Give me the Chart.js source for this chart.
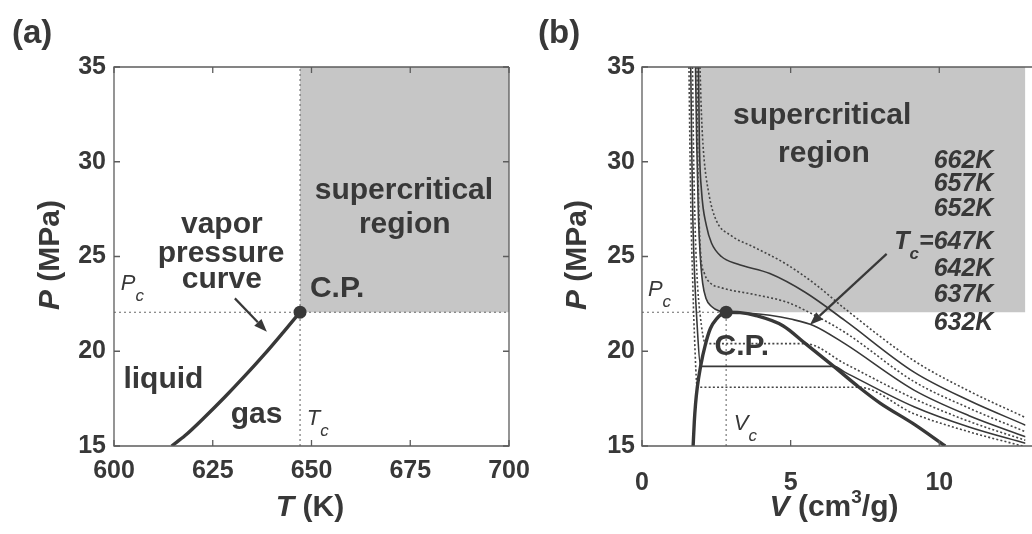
<!DOCTYPE html>
<html>
<head>
<meta charset="utf-8">
<script src="https://cdn.jsdelivr.net/npm/chart.js"></script>
<style>
  html, body { margin: 0; padding: 0; background: #fff; overflow: hidden; }
  #wrap { position: relative; width: 1032px; height: 534px; }
  #chartA { position: absolute; left: 0; top: 0; }
  #chartB { position: absolute; left: 520px; top: 0; }
</style>
</head>
<body>
<div id="wrap">
  <canvas id="chartA" width="545" height="534"></canvas>
  <canvas id="chartB" width="512" height="534"></canvas>
</div>
<script>
const FONT = '"Liberation Sans", Arial, Helvetica, sans-serif';
const INK = '#383838';
const GREY = '#c6c6c6';

// critical point of water
const Tc = 647.1;
const Pc = 22.06;
const Vc = 2.83;

// tick labels
const tTicks = [600, 625, 650, 675, 700];
const pTicks = [15, 20, 25, 30, 35];
const vTicks = [0, 5, 10];
const vMax = 12.9; // panel (b) is cut at the page edge

// (a) vapor pressure curve
const vaporT = [614.6, 618, 623, 628, 633, 638, 643, 647.1];
const vaporP = [15.0, 15.55, 16.53, 17.57, 18.67, 19.82, 21.04, 22.06];

// (b) isotherms: V (cm3/g), P (MPa)
const isoTemps = [662, 657, 652, 647, 642, 637, 632];
const v662 = [1.95, 2.0, 2.07, 2.25, 2.5, 3.0, 3.76, 4.85, 5.9, 6.82, 9.15, 11.0, 12.9];
const p662 = [35, 32.5, 30.5, 28.3, 26.9, 26.1, 25.5, 24.6, 23.45, 22.25, 19.5, 17.9, 16.5];
const v657 = [1.9, 1.93, 2.0, 2.17, 2.34, 2.67, 3.21, 4.3, 5.5, 6.82, 9.15, 11.0, 12.9];
const p657 = [35, 31, 28.5, 26.6, 25.7, 25.0, 24.6, 24.1, 23.1, 21.63, 18.9, 17.4, 16.1];
const v652 = [1.85, 1.87, 1.92, 1.98, 2.1, 2.3, 2.67, 3.76, 4.85, 5.6, 6.82, 9.15, 11.0, 12.9];
const p652 = [35, 31, 27, 25.0, 24.1, 23.6, 23.35, 23.0, 22.6, 22.07, 21.0, 18.4, 17.0, 15.75];
const v647 = [1.8, 1.84, 1.9, 1.96, 2.04, 2.15, 2.35, 2.6, 2.83, 3.5, 4.3, 5.0, 5.78, 6.82, 9.15, 11.0, 12.9];
const p647 = [35, 31, 27, 25, 23.6, 22.8, 22.35, 22.12, 22.06, 22.02, 21.9, 21.7, 21.35, 20.4, 17.95, 16.6, 15.49];
const v642 = [1.7, 1.73, 1.78, 1.85, 1.95, 2.14, 5.5, 6.82, 9.15, 11.0, 12.9];
const p642 = [35, 31, 27, 24, 22, 20.4, 20.4, 19.35, 17.5, 16.3, 15.3];
const v637 = [1.64, 1.67, 1.71, 1.77, 1.85, 1.97, 6.45, 6.82, 9.15, 11.0, 12.9];
const p637 = [35, 31, 27, 24, 21.5, 19.2, 19.2, 18.9, 17.07, 16.0, 15.14];
const v632 = [1.58, 1.61, 1.65, 1.7, 1.76, 1.86, 7.3, 9.15, 11.0, 12.9];
const p632 = [35, 31, 27, 24, 21, 18.1, 18.1, 16.7, 15.75, 14.96];

// saturation dome
const domeV = [1.72, 1.76, 1.8, 1.86, 1.97, 2.14, 2.3, 2.5, 2.83, 3.3, 3.8, 4.74, 5.5, 6.45, 7.3, 8.02, 9.11, 10.2];
const domeP = [15, 16.3, 17.2, 18.1, 19.2, 20.4, 21.2, 21.7, 22.06, 22.04, 21.9, 21.35, 20.4, 19.2, 18.1, 17.25, 16.19, 15.0];

Chart.defaults.font.family = FONT;

const pts = (xs, ys) => xs.map((x, i) => ({ x: x, y: ys[i] }));
const bold = s => 'bold ' + s + 'px ' + FONT;
const ital = s => 'italic ' + s + 'px ' + FONT;
const bi = s => 'italic bold ' + s + 'px ' + FONT;

function curve(xs, ys, dotted, width) {
  return {
    data: pts(xs, ys),
    borderColor: dotted ? '#454545' : INK,
    borderWidth: width || 1.6,
    borderDash: dotted ? [2, 2.2] : [],
    pointRadius: 0,
    cubicInterpolationMode: 'monotone',
    fill: false
  };
}
function refLine(a, b) {
  return { data: [a, b], borderColor: '#6a6a6a', borderWidth: 1.1, borderDash: [2, 3], pointRadius: 0, fill: false };
}
function cpDot(x, y) {
  return { data: [{ x: x, y: y }], showLine: false, pointRadius: 6.5, pointBackgroundColor: INK, pointBorderWidth: 0 };
}

function drawRich(ctx, parts, px, py, align, rot) {
  ctx.save();
  ctx.translate(px, py);
  if (rot) ctx.rotate(rot);
  ctx.fillStyle = INK;
  ctx.textAlign = 'left';
  ctx.textBaseline = 'alphabetic';
  let total = 0;
  const widths = parts.map(p => { ctx.font = p.font; const w = ctx.measureText(p.text).width; total += w; return w; });
  let cx = align === 'right' ? -total : align === 'center' ? -total / 2 : 0;
  parts.forEach((p, i) => { ctx.font = p.font; ctx.fillText(p.text, cx, p.dy || 0); cx += widths[i]; });
  ctx.restore();
}

function drawArrow(ctx, x0, y0, x1, y1) {
  const ang = Math.atan2(y1 - y0, x1 - x0), head = 13, half = 5;
  const bx = x1 - head * Math.cos(ang), by = y1 - head * Math.sin(ang);
  ctx.strokeStyle = INK; ctx.fillStyle = INK; ctx.lineWidth = 2.2;
  ctx.beginPath(); ctx.moveTo(x0, y0); ctx.lineTo(bx, by); ctx.stroke();
  ctx.beginPath(); ctx.moveTo(x1, y1);
  ctx.lineTo(bx + half * Math.sin(ang), by - half * Math.cos(ang));
  ctx.lineTo(bx - half * Math.sin(ang), by + half * Math.cos(ang));
  ctx.closePath(); ctx.fill();
}

const word = (text, x, y, align) => ({ x: x, y: y, align: align || 'center', parts: [{ text: text, font: bold(30) }] });
const sym = (main, sub, x, y) => ({ x: x, y: y, align: 'left', parts: [{ text: main, font: ital(22) }, { text: sub, font: ital(17), dy: 11 }] });

// frame, inner ticks, labels and arrows
function makeDecor(cfg) {
  return {
    id: 'decor',
    afterDraw(chart) {
      const ctx = chart.ctx, a = chart.chartArea;
      const sx = chart.scales.x, sy = chart.scales.y;
      const X = v => sx.getPixelForValue(v), Y = v => sy.getPixelForValue(v);
      ctx.save();
      ctx.strokeStyle = '#5c5c5c';
      ctx.lineWidth = 1.3;
      const r = cfg.openRight ? chart.width + 2 : a.right;
      ctx.beginPath();
      ctx.moveTo(r, a.top); ctx.lineTo(a.left, a.top); ctx.lineTo(a.left, a.bottom); ctx.lineTo(r, a.bottom);
      if (!cfg.openRight) ctx.lineTo(r, a.top);
      ctx.stroke();
      ctx.beginPath();
      sx.ticks.forEach(t => {
        const px = X(t.value);
        ctx.moveTo(px, a.bottom); ctx.lineTo(px, a.bottom - 6);
        ctx.moveTo(px, a.top); ctx.lineTo(px, a.top + 6);
      });
      sy.ticks.forEach(t => {
        const py = Y(t.value);
        ctx.moveTo(a.left, py); ctx.lineTo(a.left + 6, py);
        if (!cfg.openRight) { ctx.moveTo(a.right, py); ctx.lineTo(a.right - 6, py); }
      });
      ctx.stroke();
      cfg.arrows.forEach(ar => drawArrow(ctx, X(ar.x0), Y(ar.y0), X(ar.x1), Y(ar.y1)));
      cfg.labels.forEach(l => drawRich(ctx, l.parts, X(l.x), Y(l.y), l.align));
      cfg.titles.forEach(l => drawRich(ctx, l.parts, l.px, l.py, l.align, l.rot));
      ctx.restore();
    }
  };
}

function options(xMin, xMax, xTicks, xPad, yWidth, yPad, padRight) {
  const tickFont = { family: FONT, size: 25, weight: 'bold' };
  return {
    responsive: false,
    animation: false,
    events: [],
    layout: { padding: { left: 0, top: 67, right: padRight, bottom: 0 } },
    plugins: { legend: { display: false }, tooltip: { enabled: false } },
    scales: {
      x: {
        type: 'linear', min: xMin, max: xMax,
        grid: { display: false, drawTicks: false }, border: { display: false },
        afterBuildTicks: s => { s.ticks = xTicks.map(v => ({ value: v })); },
        afterFit: s => { s.height = 88; },
        ticks: { font: tickFont, color: INK, padding: xPad, maxRotation: 0, autoSkip: false }
      },
      y: {
        type: 'linear', min: 15, max: 35,
        grid: { display: false, drawTicks: false }, border: { display: false },
        afterBuildTicks: s => { s.ticks = pTicks.map(v => ({ value: v })); },
        afterFit: s => { s.width = yWidth; },
        ticks: { font: tickFont, color: INK, padding: yPad, autoSkip: false }
      }
    }
  };
}

// ---------- panel (a) ----------
const decorA = makeDecor({
  openRight: false,
  arrows: [{ x0: 630.6, y0: 22.79, x1: 638.7, y1: 21.03 }],
  labels: [
    word('supercritical', 673.4, 28.06), word('region', 673.6, 26.22),
    word('vapor', 627.3, 26.22), word('pressure', 627.1, 24.73), word('curve', 627.3, 23.32),
    word('C.P.', 649.6, 22.88, 'left'),
    word('liquid', 612.5, 18.04), word('gas', 636.1, 16.2),
    sym('P', 'c', 601.7, 23.23), sym('T', 'c', 648.8, 16.1)
  ],
  titles: [
    { px: 12, py: 43, align: 'left', parts: [{ text: '(a)', font: bold(33) }] },
    { px: 59, py: 255, align: 'center', rot: -Math.PI / 2, parts: [{ text: 'P', font: bi(30) }, { text: ' (MPa)', font: bold(30) }] },
    { px: 310, py: 516, align: 'center', parts: [{ text: 'T', font: bi(30) }, { text: ' (K)', font: bold(30) }] }
  ]
});

new Chart(document.getElementById('chartA'), {
  type: 'line',
  data: {
    datasets: [
      cpDot(Tc, Pc),
      curve(vaporT, vaporP, false, 3.4),
      refLine({ x: tTicks[0], y: Pc }, { x: tTicks[tTicks.length - 1], y: Pc }),
      refLine({ x: Tc, y: pTicks[0] }, { x: Tc, y: pTicks[pTicks.length - 1] }),
      { data: [{ x: Tc, y: Pc }, { x: tTicks[tTicks.length - 1], y: Pc }], borderWidth: 0, pointRadius: 0, fill: 'end', backgroundColor: GREY }
    ]
  },
  options: options(600, 700, tTicks, 10, 114, 8, 36),
  plugins: [decorA]
});

// ---------- panel (b) ----------
const isoV = [v662, v657, v652, v647, v642, v637, v632];
const isoP = [p662, p657, p652, p647, p642, p637, p632];
const cpIdx = v647.indexOf(Vc);
const greyEdge = pts(v647.slice(0, cpIdx + 1), p647.slice(0, cpIdx + 1)).concat([{ x: vMax, y: Pc }]);

const tempLabelP = [29.69, 28.47, 27.15, 25.40, 23.99, 22.59, 21.1];
const tempLabels = isoTemps.map((t, i) => {
  const parts = t === 647
    ? [{ text: 'T', font: bi(25) }, { text: 'c', font: bi(17), dy: 10 }, { text: '=' + t + 'K', font: bi(25) }]
    : [{ text: t + 'K', font: bi(25) }];
  return { x: 11.82, y: tempLabelP[i], align: 'right', parts: parts };
});

const decorB = makeDecor({
  openRight: true,
  arrows: [{ x0: 8.23, y0: 25.14, x1: 5.65, y1: 21.4 }],
  labels: [
    word('supercritical', 6.06, 32.0), word('region', 6.12, 29.99),
    word('C.P.', 2.44, 19.79, 'left'),
    sym('P', 'c', 0.2, 22.94), sym('V', 'c', 3.09, 15.84)
  ].concat(tempLabels),
  titles: [
    { px: 18, py: 43, align: 'left', parts: [{ text: '(b)', font: bold(33) }] },
    { px: 66, py: 255, align: 'center', rot: -Math.PI / 2, parts: [{ text: 'P', font: bi(30) }, { text: ' (MPa)', font: bold(30) }] },
    { px: 314, py: 516, align: 'center', parts: [{ text: 'V', font: bi(30) }, { text: ' (cm', font: bold(30) }, { text: '3', font: bold(19), dy: -13 }, { text: '/g)', font: bold(30) }] }
  ]
});

new Chart(document.getElementById('chartB'), {
  type: 'line',
  data: {
    datasets: [cpDot(Vc, Pc), curve(domeV, domeP, false, 3.4)]
      .concat(isoTemps.map((t, i) => curve(isoV[i], isoP[i], i % 2 === 0, 1.6)))
      .concat([
        refLine({ x: vTicks[0], y: Pc }, { x: Vc, y: Pc }),
        refLine({ x: Vc, y: pTicks[0] }, { x: Vc, y: Pc }),
        { data: greyEdge, borderWidth: 0, pointRadius: 0, cubicInterpolationMode: 'monotone', fill: 'end', backgroundColor: GREY }
      ])
  },
  options: options(0, vMax, vTicks, 22, 122, 7, 0),
  plugins: [decorB]
});
</script>
</body>
</html>
